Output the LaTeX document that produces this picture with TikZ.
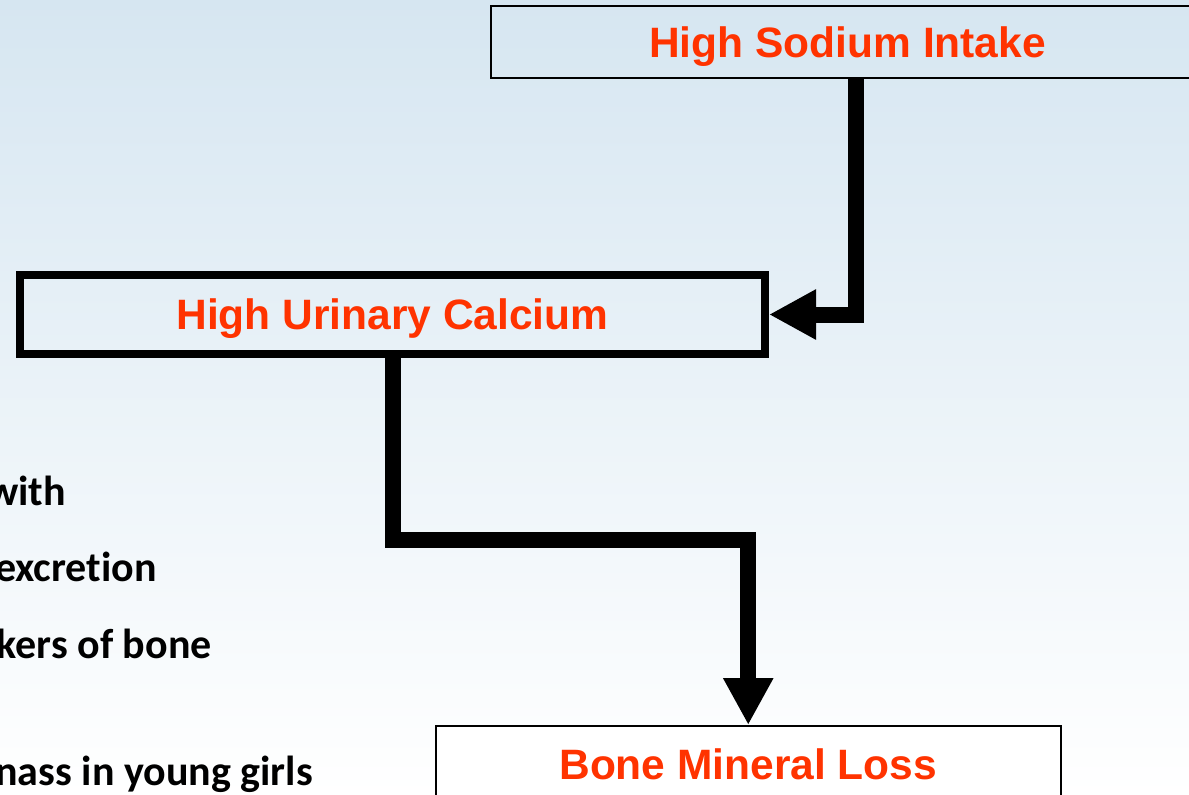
\documentclass[tikz,border=0pt]{standalone}
\usepackage{fontspec}
\setmainfont{Liberation Sans}
\newfontfamily\calibrifont[Ligatures=NoCommon]{Carlito}
\usetikzlibrary{arrows.meta,calc}
\definecolor{bgtop}{RGB}{214,230,241}
\definecolor{boxred}{RGB}{255,51,0}
\tikzset{
  boxtext/.style={font=\fontsize{42.5}{50}\selectfont\bfseries, text=boxred,
    text height=30.4pt, text depth=0pt, inner sep=0pt, align=center},
  thinbox/.style={boxtext, draw=black, line width=2pt, rectangle},
  thickbox/.style={boxtext, draw=black, line width=8pt, rectangle},
  conn/.style={draw=black, line width=16pt, line join=miter,
    -{Triangle[length=47pt,width=47pt]}},
  sidetext/.style={font=\calibrifont\bfseries\fontsize{42}{50}\selectfont,
    text=black, inner sep=0pt, anchor=base east}
}
\begin{document}
\begin{tikzpicture}[x=1pt,y=-1pt]
\useasboundingbox (0,0) rectangle (1189,795);
\fill[top color=bgtop, bottom color=white, draw=none] (0,0) rectangle (1189,795);
\clip (0,0) rectangle (1189,795);
% boxes
\node[thinbox, minimum width=713pt, minimum height=71.5pt] (sodium) at (847.5,42) {High Sodium Intake};
\node[thickbox, minimum width=745pt, minimum height=79pt] (calc) at (392.5,314.5) {High Urinary Calcium};
\node[thinbox, fill=white, minimum width=625.5pt, minimum height=76pt] (bone) at (748.25,764) {Bone Mineral Loss};
% connectors
\draw[conn] ($(sodium.south)+(8,0)$) |- (calc.east);
\coordinate (bend) at (392.5,540);
\draw[conn] (calc.south) -- (bend) -| (bone.north);
% cut-off side text
\node[sidetext] (t1) at (66,505) {with};
\node[sidetext] (t2) at (157,581.7) {excretion};
\node[sidetext] (t3) at (212,658.3) {kers of bone};
\node[sidetext] (t4) at (313,785) {nass in young girls};
\end{tikzpicture}
\end{document}
